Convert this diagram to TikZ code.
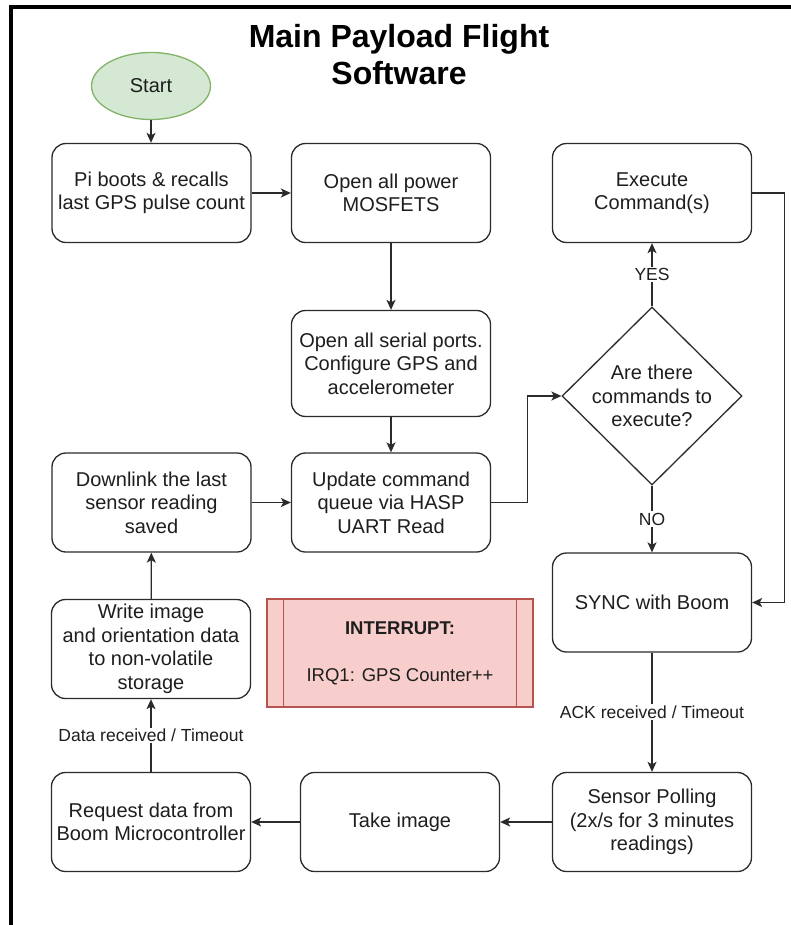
\documentclass[tikz,border=0pt]{standalone}
\usepackage{fontspec}
\setmainfont{Liberation Sans}
\usetikzlibrary{shapes.geometric,arrows.meta}
\definecolor{boxline}{HTML}{2B2B2B}
\definecolor{ink}{HTML}{1E1E1E}
\definecolor{startfill}{HTML}{D5E8D4}
\definecolor{startline}{HTML}{82B366}
\definecolor{irqfill}{HTML}{F8CECC}
\definecolor{irqline}{HTML}{B85450}
\begin{document}
\begin{tikzpicture}[x=1pt,y=-1pt,
  stepbox/.style={draw=boxline, line width=1.3pt, rounded corners=14pt, fill=white,
    minimum width=199pt, minimum height=99pt, align=center, text=ink, inner sep=2pt,
    font=\fontsize{20}{23.5}\selectfont},
  decision/.style={diamond, draw=boxline, line width=1.3pt, fill=white, inner sep=0pt,
    minimum width=180pt, minimum height=178pt},
  flow/.style={draw=boxline, line width=1.3pt, -{Stealth[length=10pt,width=9pt,inset=2.5pt]}},
  edgelabel/.style={fill=white, text=ink, inner sep=1.5pt, font=\fontsize{17.5}{20}\selectfont},
]
\useasboundingbox (0,0) rectangle (791,925);
\clip (0,0) rectangle (791,925);

% outer frame
\draw[line width=4pt] (10.5,7) rectangle (800,927);

% title
\node[font=\fontsize{32}{37}\selectfont\bfseries, align=center, text=black] (title) at (399,54.5)
  {Main Payload Flight\\Software};

% start terminal
\node[ellipse, draw=startline, fill=startfill, line width=1.3pt, minimum width=119pt,
  minimum height=67pt, text=ink, font=\fontsize{20}{23.5}\selectfont] (start) at (151,86) {Start};

% process steps
\node[stepbox] (boot) at (151.5,193) {Pi boots \& recalls\\last GPS pulse count};
\node[stepbox] (mosfet) at (391,193) {Open all power\\MOSFETS};
\node[stepbox] (exec) at (652,193) {Execute\\Command(s)};
\node[stepbox, minimum height=106pt] (serial) at (391,363.5) {Open all serial ports.\\Configure GPS and\\accelerometer};
\node[stepbox] (update) at (391,502.5) {Update command\\queue via HASP\\UART Read};
\node[stepbox] (downlink) at (151.5,502.5) {Downlink the last\\sensor reading\\saved};
\node[decision] (ask) at (652,396) {};
\node[align=center, text=ink, font=\fontsize{20}{23.5}\selectfont] (asktext) at (ask.center)
  {Are there\\commands to\\execute?};
\node[stepbox] (sync) at (652,602.5) {SYNC with Boom};
\node[stepbox] (write) at (151,649) {Write image\\and orientation data\\to non-volatile\\storage};
\node[stepbox] (request) at (151,822) {Request data from\\Boom Microcontroller};
\node[stepbox] (image) at (400,822) {Take image};
\node[stepbox] (poll) at (652,822) {Sensor Polling\\(2x/s for 3 minutes\\readings)};

% interrupt routine box
\node[draw=irqline, fill=irqfill, line width=1.3pt, minimum width=266pt, minimum height=108pt,
  align=center, text=ink, font=\fontsize{18.5}{23.5}\selectfont] (irq) at (400,653)
  {\textbf{INTERRUPT:}\\[23.5pt]IRQ1: GPS Counter++};
\draw[irqline, line width=1.3pt] ([xshift=17pt]irq.north west) -- ([xshift=17pt]irq.south west);
\draw[irqline, line width=1.3pt] ([xshift=-17pt]irq.north east) -- ([xshift=-17pt]irq.south east);

% connectors
\draw[flow] (start.south) -- (start.south |- boot.north);
\draw[flow] (boot) -- (mosfet);
\draw[flow] (mosfet) -- (serial);
\draw[flow] (serial) -- (update);
\draw[flow] (update.east) -- ++(36,0) |- (ask.west);
\draw[flow] (ask.north) -- node[edgelabel] {YES} (exec.south);
\draw[flow] (ask.south) -- node[edgelabel] {NO} (sync.north);
\draw[flow] (exec.east) -- ++(32,0) |- (sync.east);
\draw[flow] (sync) -- node[edgelabel] {ACK received / Timeout} (poll);
\draw[flow] (poll) -- (image);
\draw[flow] (image) -- (request);
\draw[flow] (request) -- node[edgelabel] {Data received / Timeout} (write);
\draw[flow] (write) -- (downlink);
\draw[flow] (downlink) -- (update);
\end{tikzpicture}
\end{document}
